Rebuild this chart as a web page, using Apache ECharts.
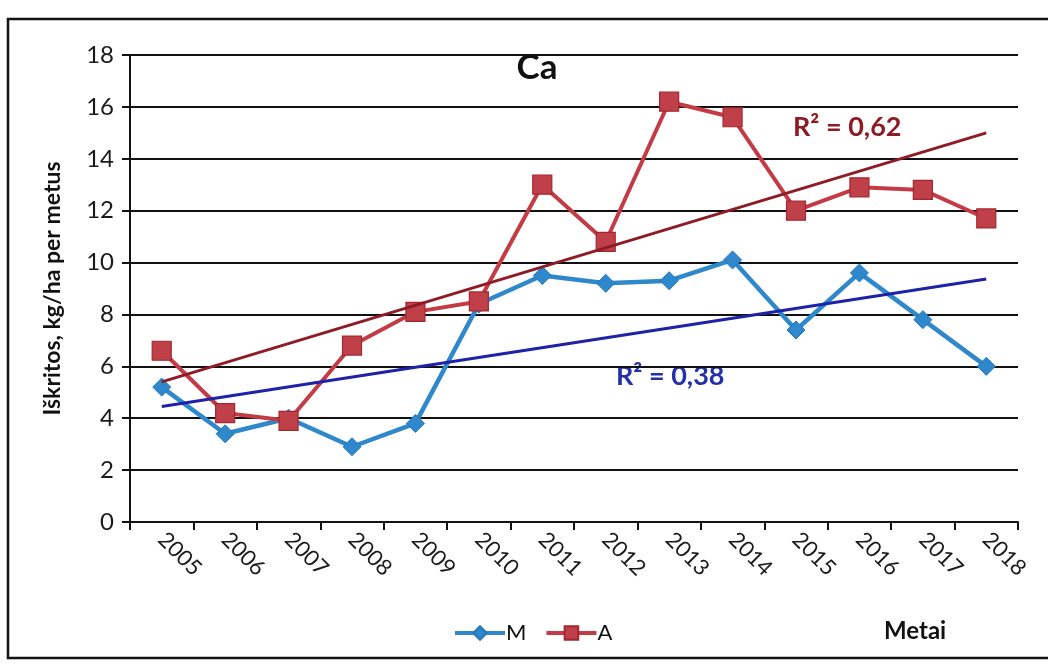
<!DOCTYPE html>
<html>
<head>
<meta charset="utf-8">
<script src="https://cdn.jsdelivr.net/npm/echarts@6/dist/echarts.min.js"></script>
<style>
html,body{margin:0;padding:0;background:#fff;}
#chart{width:1048px;height:672px;}
</style>
</head>
<body>
<div id="chart"></div>
<script>
const years = ['2005','2006','2007','2008','2009','2010','2011','2012','2013','2014','2015','2016','2017','2018'];
const seriesM = [5.2, 3.4, 4.0, 2.9, 3.8, 8.4, 9.5, 9.2, 9.3, 10.1, 7.4, 9.6, 7.8, 6.0];
const seriesA = [6.6, 4.2, 3.9, 6.8, 8.1, 8.5, 13.0, 10.8, 16.2, 15.6, 12.0, 12.9, 12.8, 11.7];
const trendA = [['2005', 5.4], ['2018', 15.0]];
const trendM = [['2005', 4.45], ['2018', 9.37]];
const yTicks = [0, 2, 4, 6, 8, 10, 12, 14, 16, 18];
const labels = { title: 'Ca', r2A: 'R² = 0,62', r2M: 'R² = 0,38', yName: 'Iškritos, kg/ha per metus', xName: 'Metai' };

const FONT = 'Lato, "Open Sans", sans-serif';
const chart = echarts.init(document.getElementById('chart'));
chart.setOption({
  animation: false,
  backgroundColor: '#fff',
  textStyle: { fontFamily: FONT },
  grid: { left: 130, right: 30, top: 55, bottom: 150 },
  legend: {
    data: ['M', 'A'],
    left: 448, top: 617,
    itemWidth: 50, itemHeight: 17, itemGap: 18,
    lineStyle: { width: 4 },
    textStyle: { fontSize: 22, color: '#111', fontFamily: FONT, padding: [0, 0, 0, -4] }
  },
  xAxis: {
    type: 'category',
    data: years,
    boundaryGap: true,
    axisLine: { lineStyle: { color: '#111', width: 2 } },
    axisTick: { show: true, length: 8, lineStyle: { color: '#111', width: 2 } },
    axisLabel: { rotate: -45, fontSize: 22, color: '#1a1a1a', margin: 14, fontFamily: FONT }
  },
  yAxis: {
    type: 'value',
    min: yTicks[0], max: yTicks[yTicks.length - 1], interval: 2,
    name: labels.yName,
    nameLocation: 'middle',
    nameGap: 66,
    nameTextStyle: { fontSize: 23, fontWeight: 'bold', color: '#111', fontFamily: FONT },
    axisLine: { show: true, lineStyle: { color: '#111', width: 2 } },
    axisTick: { show: true, length: 8, lineStyle: { color: '#111', width: 2 } },
    axisLabel: { fontSize: 24, color: '#1a1a1a', margin: 16, fontFamily: FONT },
    splitLine: { show: true, lineStyle: { color: '#111', width: 1.8 } }
  },
  series: [
    {
      name: 'M', type: 'line', data: seriesM,
      symbol: 'diamond', symbolSize: 18,
      lineStyle: { color: '#2E88CB', width: 4.5 },
      itemStyle: { color: '#2E88CB', borderColor: '#2479B8', borderWidth: 1 },
      z: 3
    },
    {
      name: 'A', type: 'line', data: seriesA,
      symbol: 'rect', symbolSize: 19,
      lineStyle: { color: '#C23B45', width: 4 },
      itemStyle: { color: '#C0404A', borderColor: '#A5262F', borderWidth: 1.2 },
      z: 3
    },
    {
      name: 'trendA', type: 'line', data: trendA,
      symbol: 'none',
      lineStyle: { color: '#8E1C26', width: 3 },
      z: 4
    },
    {
      name: 'trendM', type: 'line', data: trendM,
      symbol: 'none',
      lineStyle: { color: '#1D22A8', width: 3 },
      z: 4
    }
  ],
  graphic: [
    { type: 'rect', shape: { x: 8, y: 19, width: 1100, height: 639 }, style: { fill: 'none', stroke: '#111', lineWidth: 2.5 }, silent: true },
    { type: 'text', x: 537, y: 68, style: { text: labels.title, font: 'bold 35px ' + FONT, fill: '#111', align: 'center', verticalAlign: 'middle' } },
    { type: 'text', x: 793, y: 127, style: { text: labels.r2A, font: 'bold 27px ' + FONT, fill: '#8B1C26', align: 'left', verticalAlign: 'middle' } },
    { type: 'text', x: 616, y: 376, style: { text: labels.r2M, font: 'bold 27px ' + FONT, fill: '#2330A6', align: 'left', verticalAlign: 'middle' } },
    { type: 'text', x: 884, y: 631, style: { text: labels.xName, font: 'bold 24px ' + FONT, fill: '#111', align: 'left', verticalAlign: 'middle' } }
  ]
});
</script>
</body>
</html>
